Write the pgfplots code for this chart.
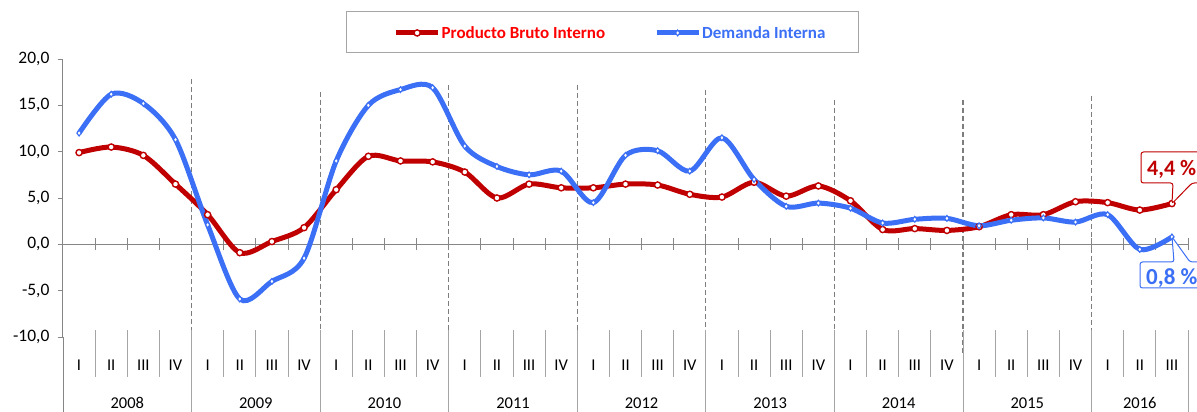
\documentclass[border=0pt]{standalone}
\usepackage{pgfplots}
\pgfplotsset{compat=1.18}
\usepackage{fontspec}
\setmainfont{Carlito}
\definecolor{pbi}{RGB}{192,0,0}
\definecolor{di}{RGB}{59,111,245}
\definecolor{axgray}{RGB}{134,134,134}
\definecolor{sepgray}{RGB}{165,165,165}
\definecolor{dashgray}{RGB}{125,125,125}
\definecolor{legred}{RGB}{255,0,0}
\definecolor{legblue}{RGB}{59,111,245}
\begin{document}
\begin{tikzpicture}
\def\q{32.142857pt}
% legend frame
\draw[sepgray, line width=1pt] (283pt,284pt) rectangle (795pt,325pt);
% year dashed lines
\foreach \k/\t in {4/258,8/245,12/252,16/252,20/247,24/237,28/237,32/241}
  \draw[dashgray, dash pattern=on 5pt off 3pt, line width=1.1pt] ({\k*\q},{\t*1pt}) -- ({\k*\q},-16pt);
% zero line with ticks
\draw[axgray, line width=1pt] (0pt,92.667pt) -- (1125pt,92.667pt);
\foreach \k in {1,...,35}
  \draw[axgray, line width=0.8pt] ({\k*\q},86.7pt) -- ({\k*\q},98.7pt);
% category separators
\foreach \k in {1,...,34}
  \draw[sepgray, line width=0.8pt] ({\k*\q},7pt) -- ({\k*\q},-40pt);
\foreach \k in {4,8,...,32,35}
  \draw[sepgray, line width=0.8pt] ({\k*\q},7pt) -- ({\k*\q},-75pt);
\draw[axgray, line width=1pt] (0pt,0pt) -- (0pt,-75pt);
% quarter labels
\foreach \l [count=\c from 0] in {I,II,III,IV,I,II,III,IV,I,II,III,IV,I,II,III,IV,I,II,III,IV,I,II,III,IV,I,II,III,IV,I,II,III,IV,I,II,III}
  \node[font=\fontsize{16.5}{17}\selectfont, inner sep=0pt] at ({(\c+0.5)*\q},-28pt) {\l};
\foreach \y [count=\c from 0] in {2008,2009,2010,2011,2012,2013,2014,2015}
  \node[font=\fontsize{16.5}{17}\selectfont, inner sep=0pt] at ({(\c*4+2)*\q},-66pt) {\y};
\node[font=\fontsize{16.5}{17}\selectfont, inner sep=0pt] at ({33.5*\q},-66pt) {2016};

\begin{axis}[
  scale only axis, width=1125pt, height=278pt,
  at={(0pt,0pt)}, anchor=south west,
  xmin=-0.5, xmax=34.5, ymin=-10, ymax=20,
  axis y line*=left, axis x line=none,
  ytick={-10,-5,...,20},
  y axis line style={axgray, line width=1pt},
  ytick style={axgray, line width=0.8pt},
  tick align=outside, major tick length=5pt,
  yticklabel style={font=\fontsize{17.5}{18}\selectfont, text=black, xshift=-5pt},
  /pgf/number format/use comma,
  /pgf/number format/fixed,
  /pgf/number format/fixed zerofill,
  /pgf/number format/precision=1,
  /pgf/number format/assume math mode=true,
  clip=false,
  legend style={at={(axis cs:16.52,22.81)}, anchor=center, draw=none, fill=none,
    font=\bfseries\fontsize{17}{18}\selectfont, legend columns=2,
    nodes={inner xsep=1pt, inner ysep=2pt},
    /tikz/every even column/.append style={column sep=48pt}},
  legend image code/.code={\draw[mark repeat=2, mark phase=2, #1] plot coordinates {(0pt,0pt) (21pt,0pt) (42pt,0pt)};},
]
\addplot[pbi, line width=5pt, smooth, mark=*, mark options={fill=white, draw=pbi, line width=1.4pt, mark size=3.1pt, solid}] coordinates {
(0,9.9) (1,10.5) (2,9.6) (3,6.5)
(4,3.2) (5,-0.9) (6,0.3) (7,1.8)
(8,5.9) (9,9.5) (10,9.0) (11,8.9)
(12,7.8) (13,5.0) (14,6.5) (15,6.1)
(16,6.1) (17,6.5) (18,6.4) (19,5.4)
(20,5.1) (21,6.7) (22,5.2) (23,6.3)
(24,4.7) (25,1.6) (26,1.7) (27,1.5)
(28,1.9) (29,3.2) (30,3.2) (31,4.6)
(32,4.5) (33,3.7) (34,4.4)
};
\addlegendentry{\textcolor{legred}{Producto Bruto Interno}}
\addplot[di, line width=5pt, smooth, mark=diamond*, mark options={fill=white, draw=di, line width=1.1pt, mark size=2.9pt, solid}] coordinates {
(0,12.0) (1,16.2) (2,15.2) (3,11.3)
(4,2.1) (5,-5.9) (6,-4.0) (7,-1.5)
(8,9.0) (9,15.0) (10,16.7) (11,16.9)
(12,10.6) (13,8.4) (14,7.5) (15,7.9)
(16,4.5) (17,9.6) (18,10.1) (19,7.9)
(20,11.5) (21,7.0) (22,4.1) (23,4.45)
(24,3.9) (25,2.3) (26,2.7) (27,2.8)
(28,2.0) (29,2.6) (30,2.85) (31,2.4)
(32,3.2) (33,-0.55) (34,0.8)
};
\addlegendentry{\textcolor{legblue}{Demanda Interna}}
\end{axis}
% callouts
\draw[pbi, line width=1pt, fill=white, rounded corners=2.5pt] (1110pt,154pt) -- (1078pt,154pt) -- (1078pt,185pt) -- (1150pt,185pt) -- (1150pt,154pt) -- (1129pt,154pt) -- (1109pt,133.4pt) -- cycle;
\node[anchor=base west, text=pbi, font=\bfseries\fontsize{22}{22}\selectfont, inner sep=0pt] at (1084pt,161pt) {4,4 \%};
\draw[di, line width=1pt, fill=white, rounded corners=2.5pt] (1111pt,75pt) -- (1109pt,100.1pt) -- (1127pt,75pt) -- (1150pt,75pt) -- (1150pt,49pt) -- (1077pt,49pt) -- (1077pt,75pt) -- cycle;
\node[anchor=base west, text=di, font=\bfseries\fontsize{23}{23}\selectfont, inner sep=0pt] at (1083pt,52pt) {0,8 \%};
\pgfresetboundingbox
\useasboundingbox (-63pt,-75pt) rectangle (1134pt,337pt);
\end{tikzpicture}
\end{document}
